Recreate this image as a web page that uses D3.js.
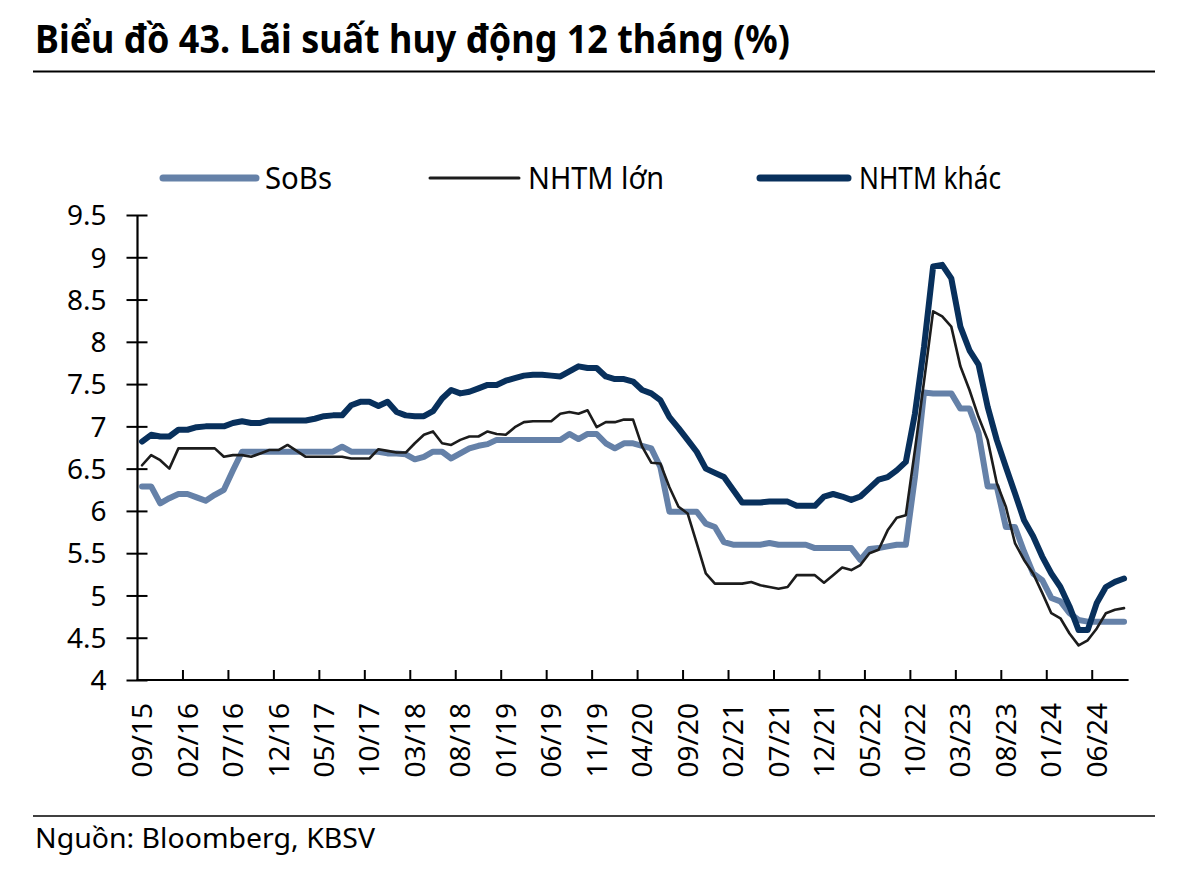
<!DOCTYPE html>
<html>
<head>
<meta charset="utf-8">
<script src="https://cdn.jsdelivr.net/npm/d3@7"></script>
<style>
  html, body { margin: 0; padding: 0; background: #ffffff; }
  svg { display: block; }
  text { font-family: "Noto Sans", "DejaVu Sans", sans-serif; fill: #000; }
</style>
</head>
<body>
<svg id="chart" width="1200" height="872"></svg>
<script>
// ---------- DATA ----------
const categories = [
  "09/15","10/15","11/15","12/15",
  "01/16","02/16","03/16","04/16","05/16","06/16","07/16","08/16","09/16","10/16","11/16","12/16",
  "01/17","02/17","03/17","04/17","05/17","06/17","07/17","08/17","09/17","10/17","11/17","12/17",
  "01/18","02/18","03/18","04/18","05/18","06/18","07/18","08/18","09/18","10/18","11/18","12/18",
  "01/19","02/19","03/19","04/19","05/19","06/19","07/19","08/19","09/19","10/19","11/19","12/19",
  "01/20","02/20","03/20","04/20","05/20","06/20","07/20","08/20","09/20","10/20","11/20","12/20",
  "01/21","02/21","03/21","04/21","05/21","06/21","07/21","08/21","09/21","10/21","11/21","12/21",
  "01/22","02/22","03/22","04/22","05/22","06/22","07/22","08/22","09/22","10/22","11/22","12/22",
  "01/23","02/23","03/23","04/23","05/23","06/23","07/23","08/23","09/23","10/23","11/23","12/23",
  "01/24","02/24","03/24","04/24","05/24","06/24","07/24","08/24","09/24"
];

const tickLabels = ["09/15","02/16","07/16","12/16","05/17","10/17","03/18","08/18","01/19","06/19",
  "11/19","04/20","09/20","02/21","07/21","12/21","05/22","10/22","03/23","08/23","01/24","06/24"];

const yTicks = [4, 4.5, 5, 5.5, 6, 6.5, 7, 7.5, 8, 8.5, 9, 9.5];

const sobs = [
  6.29,6.29,6.09,6.15,6.20,6.20,6.16,6.12,6.19,6.25,
  6.48,6.70,6.70,6.70,6.70,6.70,6.70,6.70,6.70,6.70,
  6.70,6.70,6.76,6.70,6.70,6.70,6.70,6.68,6.68,6.67,
  6.61,6.64,6.70,6.70,6.62,6.68,6.74,6.77,6.79,6.84,
  6.84,6.84,6.84,6.84,6.84,6.84,6.84,6.91,6.85,6.91,
  6.91,6.80,6.74,6.80,6.80,6.77,6.74,6.52,5.99,5.99,
  5.99,5.99,5.85,5.81,5.63,5.60,5.60,5.60,5.60,5.62,
  5.60,5.60,5.60,5.60,5.56,5.56,5.56,5.56,5.56,5.42,
  5.55,5.56,5.58,5.60,5.60,6.40,7.40,7.39,7.39,7.39,
  7.21,7.21,6.92,6.29,6.29,5.81,5.81,5.52,5.26,5.18,
  4.97,4.93,4.79,4.71,4.69,4.69,4.69,4.69,4.69
];

const nhtmLon = [
  6.54,6.66,6.60,6.50,6.74,6.74,6.74,6.74,6.74,6.64,
  6.66,6.66,6.64,6.68,6.72,6.72,6.78,6.71,6.64,6.64,
  6.64,6.64,6.64,6.62,6.62,6.62,6.73,6.71,6.69,6.69,
  6.80,6.90,6.94,6.80,6.78,6.84,6.88,6.88,6.94,6.91,
  6.90,6.99,7.05,7.06,7.06,7.06,7.15,7.17,7.15,7.19,
  6.99,7.05,7.05,7.08,7.08,6.76,6.57,6.56,6.28,6.05,
  5.97,5.62,5.26,5.14,5.14,5.14,5.14,5.16,5.12,5.10,
  5.08,5.10,5.24,5.24,5.24,5.15,5.24,5.33,5.30,5.36,
  5.50,5.54,5.77,5.92,5.95,6.72,7.53,8.36,8.30,8.18,
  7.71,7.43,7.11,6.84,6.33,6.05,5.62,5.42,5.26,5.03,
  4.79,4.73,4.55,4.41,4.47,4.61,4.79,4.83,4.85
];

const nhtmKhac = [
  6.82,6.90,6.88,6.88,6.96,6.96,6.99,7.00,7.00,7.00,
  7.04,7.06,7.04,7.04,7.07,7.07,7.07,7.07,7.07,7.09,
  7.12,7.13,7.13,7.25,7.29,7.29,7.24,7.29,7.17,7.13,
  7.12,7.12,7.18,7.33,7.43,7.39,7.41,7.45,7.49,7.49,
  7.54,7.57,7.60,7.61,7.61,7.60,7.59,7.65,7.71,7.69,
  7.69,7.59,7.56,7.56,7.53,7.43,7.39,7.31,7.11,6.98,
  6.84,6.70,6.50,6.45,6.40,6.25,6.10,6.10,6.10,6.11,
  6.11,6.11,6.06,6.06,6.06,6.17,6.20,6.17,6.13,6.17,
  6.27,6.37,6.40,6.48,6.58,7.15,7.94,8.89,8.91,8.75,
  8.18,7.90,7.73,7.23,6.84,6.52,6.21,5.89,5.70,5.46,
  5.26,5.10,4.87,4.59,4.59,4.91,5.10,5.16,5.20
];

const seriesNames = ["SoBs", "NHTM lớn", "NHTM khác"];
const seriesColors = ["#6581a8", "#1c1c1c", "#08305c"];
const seriesWidths = [6, 2.6, 6];
const seriesValues = [sobs, nhtmLon, nhtmKhac];

// ---------- CHART ----------
(function () {
const svg = d3.select("#chart");
const pLeft = 137.5, pRight = 1128.6, pTop = 215, pBottom = 680;

const x = d3.scaleBand().domain(categories).range([pLeft, pRight]).padding(0);
const y = d3.scaleLinear().domain([4, 9.5]).range([pBottom, pTop]);
const cx = d => x(d) + x.bandwidth() / 2;

// Title
svg.append("text")
  .attr("x", 35).attr("y", 53)
  .style("font-weight", "700").style("font-size", "39px")
  .attr("textLength", 755).attr("lengthAdjust", "spacingAndGlyphs")
  .text("Biểu đồ 43. Lãi suất huy động 12 tháng (%)");

svg.append("line").attr("x1", 33).attr("x2", 1155).attr("y1", 71.5).attr("y2", 71.5)
  .attr("stroke", "#000").attr("stroke-width", 2);

// Legend
const legendItems = [
  { x1: 163, x2: 256, tx: 265, tw: 67 },
  { x1: 430, x2: 519, tx: 528, tw: 136 },
  { x1: 760, x2: 848, tx: 859, tw: 142 }
];
legendItems.forEach((it, i) => {
  svg.append("line").attr("x1", it.x1).attr("x2", it.x2).attr("y1", 178).attr("y2", 178)
    .attr("stroke", seriesColors[i]).attr("stroke-width", i === 1 ? 3 : 7)
    .attr("stroke-linecap", "round");
  svg.append("text").attr("x", it.tx).attr("y", 188.5)
    .style("font-size", "30px")
    .attr("textLength", it.tw).attr("lengthAdjust", "spacingAndGlyphs")
    .text(seriesNames[i]);
});

// Y axis
const yAxis = svg.append("g").attr("transform", `translate(${pLeft},0)`)
  .call(d3.axisLeft(y).tickValues(yTicks).tickSize(11).tickFormat(d3.format("~g")));
yAxis.select(".domain").attr("stroke", "#000").attr("stroke-width", 2.2)
  .attr("d", `M0,${pTop}V${pBottom}`);
yAxis.selectAll(".tick line").attr("x1", -11).attr("x2", 10).attr("stroke", "#000").attr("stroke-width", 2);
yAxis.selectAll(".tick text").attr("x", -31).attr("dy", "0.35em")
  .style("font-size", "28px").style("font-family", "'Noto Sans', sans-serif").attr("fill", "#000");

// X axis
const xAxis = svg.append("g").attr("transform", `translate(0,${pBottom})`)
  .call(d3.axisBottom(x).tickValues(tickLabels).tickSize(0));
xAxis.select(".domain").attr("stroke", "#000").attr("stroke-width", 2.2)
  .attr("d", `M${pLeft - 1},0H${pRight}`);
xAxis.selectAll(".tick text")
  .attr("transform", "rotate(-90)")
  .attr("x", -23).attr("y", 0).attr("dy", "0.36em")
  .attr("text-anchor", "end")
  .style("font-size", "28px").style("font-family", "'Noto Sans', sans-serif").attr("fill", "#000");

svg.append("g").selectAll("line").data(tickLabels.slice(1)).join("line")
  .attr("x1", d => x(d)).attr("x2", d => x(d))
  .attr("y1", pBottom - 10).attr("y2", pBottom)
  .attr("stroke", "#000").attr("stroke-width", 2);

// Lines
const lineGen = vals => d3.line()
  .x((d, i) => cx(categories[i]))
  .y(d => y(d))(vals);

seriesValues.forEach((vals, s) => {
  svg.append("path")
    .attr("d", lineGen(vals))
    .attr("fill", "none")
    .attr("stroke", seriesColors[s])
    .attr("stroke-width", seriesWidths[s])
    .attr("stroke-linejoin", "round")
    .attr("stroke-linecap", "round");
});

// Source
svg.append("line").attr("x1", 33).attr("x2", 1155).attr("y1", 816).attr("y2", 816)
  .attr("stroke", "#000").attr("stroke-width", 1.5);
svg.append("text").attr("x", 35).attr("y", 848)
  .style("font-size", "28px")
  .attr("textLength", 340).attr("lengthAdjust", "spacingAndGlyphs")
  .text("Nguồn: Bloomberg, KBSV");
})();
</script>
</body>
</html>
